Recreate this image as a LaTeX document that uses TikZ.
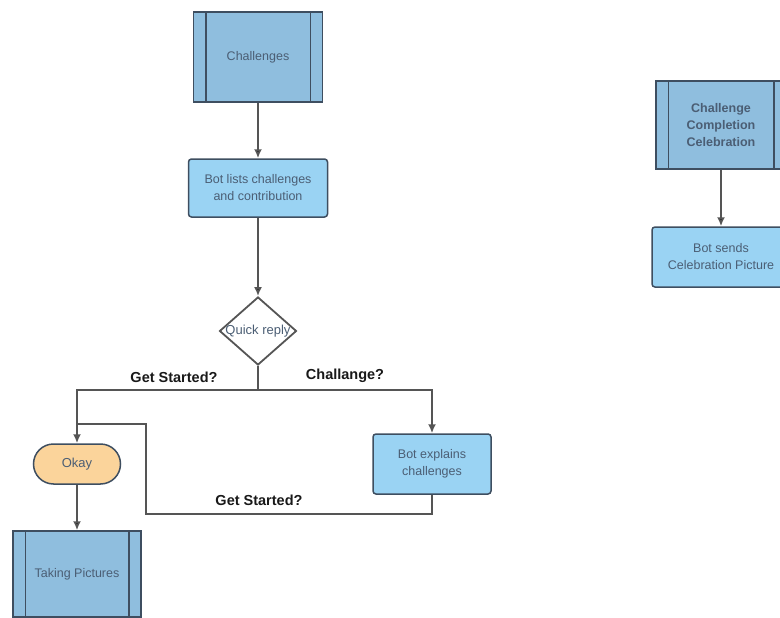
\documentclass[tikz,border=0pt]{standalone}
\usepackage{fontspec}
\setmainfont{Liberation Sans}
\usetikzlibrary{arrows.meta, shapes.geometric}

\definecolor{procfill}{HTML}{8FBEDE}
\definecolor{boxfill}{HTML}{9AD3F3}
\definecolor{okfill}{HTML}{FBD49B}
\definecolor{edgecol}{HTML}{3E4E60}
\definecolor{txtcol}{HTML}{4B5E74}
\definecolor{linecol}{HTML}{555555}

\begin{document}
\begin{tikzpicture}[x=1pt,y=-1pt]
   \tikzstyle{process}=[rectangle,draw=edgecol,fill=procfill,line width=1.5pt,text=txtcol,align=center,font=\fontsize{12.5}{16}\selectfont]
   \tikzstyle{box}=[rectangle,rounded corners=3pt,draw=edgecol,fill=boxfill,line width=1.5pt,text=txtcol,align=center,font=\fontsize{12.5}{17}\selectfont]
   \tikzstyle{okay}=[rectangle,rounded corners=20pt,draw=edgecol,fill=okfill,line width=1.5pt,text=txtcol,font=\fontsize{13}{16}\selectfont]
   \tikzstyle{decision}=[diamond,draw=linecol,fill=white,line width=1.8pt,inner sep=0pt,minimum width=77pt,minimum height=68pt]
   \tikzstyle{lbl}=[font=\bfseries\fontsize{14.5}{17}\selectfont,text=black!90]
   \tikzstyle{flow}=[draw=linecol,line width=1.8pt,arrows={-{Latex[length=9pt,width=8pt]}}]
   \useasboundingbox (0,0) rectangle (780,618);

   \node[process,minimum width=129pt,minimum height=90pt] (1) at (258,57) {Challenges};
   \node[box,minimum width=139pt,minimum height=58pt] (2) at (258,188) {Bot lists challenges\\and contribution};
   \node[decision,label={[text=txtcol,font=\fontsize{13}{16}\selectfont]center:Quick reply}] (3) at (258,331) {};
   \node[okay,minimum width=87pt,minimum height=40pt] (4) at (77,464) {Okay};
   \node[box,minimum width=118pt,minimum height=60pt] (5) at (432,464) {Bot explains\\challenges};
   \node[process,minimum width=128pt,minimum height=86pt] (6) at (77,574) {Taking Pictures};
   \node[process,minimum width=130pt,minimum height=88pt,font=\bfseries\fontsize{12.5}{17}\selectfont] (7) at (721,125) {Challenge\\Completion\\Celebration};
   \node[box,minimum width=138pt,minimum height=60pt] (8) at (721,257) {Bot sends\\Celebration Picture};

   % inner bars of the process boxes
   \foreach \n in {1,6,7} {
      \draw[draw=edgecol,line width=1.5pt] ([xshift=13pt]\n.north west) -- ([xshift=13pt]\n.south west);
      \draw[draw=edgecol,line width=1.5pt] ([xshift=-13pt]\n.north east) -- ([xshift=-13pt]\n.south east);
   }

   \coordinate (j) at (258,390);
   \coordinate (c) at (146,514);
   \coordinate (d) at (146,424);
   \coordinate (e) at (77,424);

   \node[lbl] (9) at (174,377) {Get Started?};
   \node[lbl] (10) at (345,376) {Challange?};
   \node[lbl] (11) at (259,500) {Get Started?};

   \path[flow] (1) edge (2);
   \path[flow] (2) edge (3);
   \draw[flow,-] (3) -- (j);
   \draw[flow] (j) -| (4);
   \draw[flow] (j) -| (5);
   \draw[flow,-] (5) |- (c) -- (d) -- (e);
   \path[flow] (4) edge (6);
   \path[flow] (7) edge (8);
\end{tikzpicture}
\end{document}
